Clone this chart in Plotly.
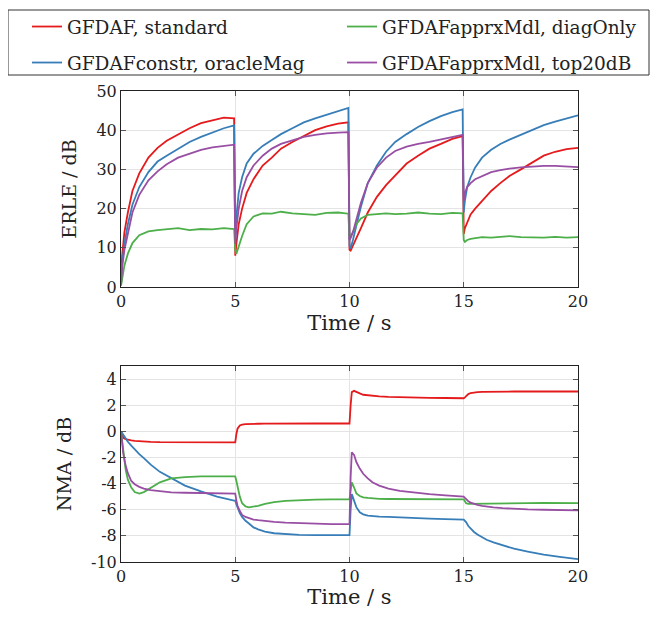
import plotly.graph_objects as go
from plotly.subplots import make_subplots

# ---------------- data ----------------
series_names = ["GFDAF, standard", "GFDAFconstr, oracleMag",
                "GFDAFapprxMdl, diagOnly", "GFDAFapprxMdl, top20dB"]
series_colors = ["#e41a1c", "#377eb8", "#4daf4a", "#984ea3"]

t_erle = [0, 0.05, 0.15, 0.3, 0.5, 0.8, 1.2, 1.6, 2.0, 2.5, 3.0, 3.5, 4.0, 4.5, 4.95,
          5.0, 5.05, 5.15, 5.3, 5.5, 5.8, 6.2, 6.6, 7.0, 7.5, 8.0, 8.5, 9.0, 9.5, 9.95,
          10.0, 10.05, 10.15, 10.3, 10.5, 10.8, 11.2, 11.6, 12.0, 12.5, 13.0, 13.5, 14.0, 14.5, 14.95,
          15.0, 15.05, 15.15, 15.3, 15.5, 15.8, 16.2, 16.6, 17.0, 17.5, 18.0, 18.5, 19.0, 19.5, 20.0]

erle_standard = [1, 8, 14, 19, 24.5, 29, 33, 35.5, 37.3, 39, 40.5, 41.8, 42.5, 43.2, 43.0,
                 8, 11, 16, 20, 24, 27.5, 31, 33, 35.3, 37, 38.5, 40, 41, 41.7, 42,
                 9.5, 9.3, 10.5, 12.5, 15, 19, 23, 26, 28.5, 31.5, 33.5, 35.3, 36.5, 37.8, 38.5,
                 13.5, 15, 16.5, 18.5, 20, 22, 24.5, 26.5, 28.3, 30, 31.8, 33.5, 34.5, 35.2, 35.5]
erle_oracle = [0.5, 6, 11, 16, 21, 25.5, 29.3, 32, 33.5, 35.3, 37, 38.3, 39.5, 40.5, 41.2,
               12, 18, 24, 28, 31.5, 34, 36, 37.5, 39, 40.5, 42, 43, 44, 44.8, 45.7,
               10.5, 9.8, 12, 16, 20.5, 26.5, 31, 34.5, 37, 39, 40.8, 42.3, 43.6, 44.6, 45.3,
               19, 22, 25.5, 28, 30.5, 33, 35, 36.5, 37.6, 38.8, 40, 41.3, 42.2, 43, 43.8]
erle_diag = [0.3, 2.5, 5.5, 8.5, 11.2, 13.2, 14.2, 14.5, 14.8, 15, 14.5, 14.8, 14.7, 15, 14.8,
             9.5, 8.5, 10.5, 13, 16, 18, 18.8, 18.7, 19.2, 18.8, 18.6, 18.4, 18.9, 19, 18.7,
             12.5, 13, 14, 16, 17.5, 18.4, 18.6, 18.8, 18.6, 18.7, 19, 18.7, 18.6, 18.9, 18.8,
             12, 11.5, 12, 12.3, 12.5, 12.7, 12.6, 12.8, 13, 12.7, 12.6, 12.6, 12.8, 12.6, 12.7]
erle_top20 = [0.5, 5, 9.5, 14, 19, 23.5, 27.2, 29.5, 31.3, 33, 34, 35, 35.6, 36, 36.3,
              11, 15, 20, 24.5, 28, 31, 33.5, 35.3, 36.5, 37.5, 38.3, 38.8, 39.2, 39.4, 39.5,
              12, 12.5, 14, 17.5, 21.5, 26.5, 30.5, 33, 34.7, 35.8, 36.5, 37, 37.6, 38.3, 38.8,
              22, 24, 25.5, 26.5, 27.5, 28.3, 29.3, 29.8, 30.2, 30.5, 30.7, 30.9, 30.9, 30.8, 30.6]

t_nma = [0, 0.05, 0.1, 0.2, 0.3, 0.45, 0.6, 0.8, 1.0, 1.3, 1.7, 2.2, 2.8, 3.5, 4.2, 4.95,
         5.0, 5.05, 5.1, 5.2, 5.3, 5.45, 5.6, 5.8, 6.0, 6.3, 6.7, 7.2, 7.8, 8.5, 9.2, 9.95,
         10.0, 10.05, 10.1, 10.2, 10.3, 10.45, 10.6, 10.8, 11.0, 11.3, 11.7, 12.2, 12.8, 13.5, 14.2, 14.95,
         15.0, 15.05, 15.1, 15.2, 15.3, 15.45, 15.6, 15.8, 16.0, 16.3, 16.7, 17.2, 17.8, 18.5, 19.2, 20.0]

nma_standard = [0, -0.3, -0.5, -0.6, -0.65, -0.7, -0.73, -0.76, -0.78, -0.8, -0.82, -0.83, -0.84, -0.85, -0.85, -0.85,
                -0.85, -0.2, 0.2, 0.45, 0.52, 0.55, 0.57, 0.58, 0.58, 0.59, 0.6, 0.6, 0.6, 0.6, 0.6, 0.6,
                0.6, 2.0, 3.0, 3.1, 3.0, 2.9, 2.8, 2.75, 2.7, 2.67, 2.63, 2.6, 2.58, 2.56, 2.55, 2.53,
                2.53, 2.6, 2.7, 2.85, 2.93, 2.98, 3.0, 3.02, 3.03, 3.04, 3.05, 3.05, 3.05, 3.05, 3.05, 3.05]
nma_oracle = [0, -0.15, -0.3, -0.55, -0.8, -1.1, -1.4, -1.75, -2.05, -2.55, -3.1, -3.6, -4.15, -4.6, -5.0, -5.3,
              -5.3, -5.6, -5.85, -6.25, -6.55, -6.85, -7.05, -7.35, -7.5, -7.68, -7.8, -7.88, -7.92, -7.95, -7.95, -7.95,
              -7.95, -6.0, -4.8, -5.3, -5.8, -6.2, -6.35, -6.45, -6.5, -6.52, -6.55, -6.6, -6.63, -6.68, -6.72, -6.75,
              -6.75, -6.85, -6.95, -7.25, -7.45, -7.7, -7.9, -8.1, -8.3, -8.5, -8.72, -8.98, -9.2, -9.43, -9.6, -9.78]
nma_diag = [0, -0.8, -1.6, -2.9, -3.7, -4.3, -4.65, -4.77, -4.65, -4.35, -3.9, -3.6, -3.5, -3.45, -3.45, -3.45,
            -3.45, -3.8, -4.3, -5.0, -5.5, -5.75, -5.82, -5.78, -5.7, -5.55, -5.42, -5.32, -5.25, -5.22, -5.2, -5.2,
            -5.2, -4.5, -3.9, -4.3, -4.75, -4.95, -5.05, -5.1, -5.15, -5.17, -5.18, -5.19, -5.2, -5.2, -5.2, -5.2,
            -5.2, -5.35, -5.5, -5.55, -5.55, -5.53, -5.52, -5.5, -5.5, -5.5, -5.5, -5.5, -5.5, -5.48, -5.5, -5.5]
nma_top20 = [0, -1.0, -1.7, -2.6, -3.2, -3.8, -4.05, -4.25, -4.38, -4.5, -4.6, -4.67, -4.7, -4.73, -4.75, -4.77,
             -4.77, -5.3, -5.7, -6.1, -6.4, -6.55, -6.65, -6.75, -6.8, -6.87, -6.93, -6.98, -7.03, -7.07, -7.1, -7.1,
             -7.1, -3.5, -1.6, -1.8, -2.35, -2.85, -3.25, -3.6, -3.9, -4.15, -4.38, -4.55, -4.68, -4.8, -4.9, -5.0,
             -5.0, -5.1, -5.2, -5.35, -5.45, -5.55, -5.62, -5.7, -5.77, -5.82, -5.88, -5.93, -5.97, -6.0, -6.03, -6.05]

x_ticks = [0, 5, 10, 15, 20]
erle_ticks = [0, 10, 20, 30, 40, 50]
nma_ticks = [-10, -8, -6, -4, -2, 0, 2, 4]
nma_ticktext = ["-10", "-8", "-6", "-4", "-2", "0", "2", "4"]

# ---------------- figure ----------------
FONT = "DejaVu Serif"
TXT = "#222"
fig = make_subplots(rows=2, cols=1)

erle_data = [erle_standard, erle_oracle, erle_diag, erle_top20]
nma_data = [nma_standard, nma_oracle, nma_diag, nma_top20]
legend_ids = ["legend", "legend2", "legend3", "legend4"]
for i in range(4):
    fig.add_trace(go.Scatter(x=t_erle, y=erle_data[i], mode="lines", name=series_names[i],
                             line=dict(color=series_colors[i], width=1.8),
                             legend=legend_ids[i], showlegend=True), row=1, col=1)
for i in range(4):
    fig.add_trace(go.Scatter(x=t_nma, y=nma_data[i], mode="lines", name=series_names[i],
                             line=dict(color=series_colors[i], width=1.8),
                             showlegend=False), row=2, col=1)

axis_common = dict(showline=True, linecolor="#222", linewidth=1, mirror="allticks",
                   ticks="inside", ticklen=5, tickcolor="#555", showgrid=True,
                   gridcolor="#e4e4e4", gridwidth=1, zeroline=False,
                   tickfont=dict(family=FONT, size=16, color=TXT))

fig.update_xaxes(range=[0, 20], tickvals=x_ticks, **axis_common)
fig.update_xaxes(title=dict(text="Time / s", font=dict(family=FONT, size=21, color=TXT), standoff=4))
fig.update_yaxes(range=[0, 50], tickvals=erle_ticks,
                 title=dict(text="ERLE / dB", font=dict(family=FONT, size=19, color=TXT), standoff=14),
                 row=1, col=1, **axis_common)
fig.update_yaxes(range=[-10, 5], tickvals=nma_ticks, ticktext=nma_ticktext,
                 title=dict(text="NMA / dB", font=dict(family=FONT, size=19, color=TXT), standoff=14),
                 row=2, col=1, **axis_common)

# page body adds an 8px offset; figure coordinates below are reference pixels minus 8
W, H = 643, 601
ml, mt = 113, 83
mr = W - 570
mb = H - 554
pw = W - ml - mr
ph = H - mt - mb


def leg(xpx, ypx):
    return dict(orientation="h", xref="paper", yref="paper",
                x=(xpx - ml) / pw, xanchor="left",
                y=1 + (mt - ypx) / ph, yanchor="middle",
                font=dict(family=FONT, size=18.5, color=TXT),
                bgcolor="rgba(0,0,0,0)", borderwidth=0)


fig.update_layout(
    width=W, height=H,
    margin=dict(l=ml, r=mr, t=mt, b=mb, autoexpand=False),
    plot_bgcolor="white", paper_bgcolor="white",
    font=dict(family=FONT, size=17, color=TXT),
    xaxis=dict(domain=[0, 1]), xaxis2=dict(domain=[0, 1]),
    yaxis=dict(domain=[(562 - 287) / ph, 1.0]),
    yaxis2=dict(domain=[0, (562 - 366) / ph]),
    legend=leg(19, 19),
    legend2=leg(19, 55),
    legend3=leg(334, 19),
    legend4=leg(334, 55),
    showlegend=True,
)
fig.add_shape(type="rect", xref="paper", yref="paper",
              x0=(0 - ml) / pw, x1=(641 - ml) / pw,
              y0=1 + (mt - 67) / ph, y1=1 + (mt - 2) / ph,
              line=dict(color="#333", width=1), fillcolor="rgba(0,0,0,0)")

fig.write_html("out.html")
